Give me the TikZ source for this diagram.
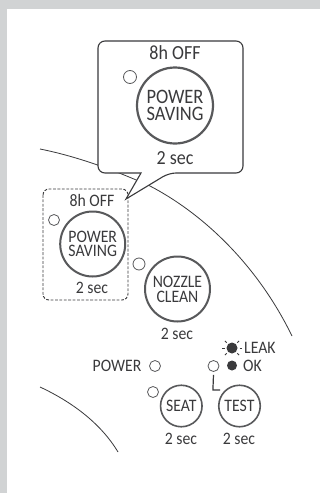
\documentclass[tikz,border=0pt]{standalone}
\usepackage{fontspec}
\setmainfont[FakeStretch=0.9]{Carlito}
\definecolor{ink}{HTML}{3A3A3C}
\definecolor{btn}{HTML}{58595B}
\definecolor{bg}{HTML}{D1D3D4}
\tikzset{
 lbl/.style={text=ink,inner sep=0pt,align=center,font=\fontsize{#1}{#1}\selectfont},
 lbl/.default=15,
 two/.style={text=ink,inner sep=0pt,align=center,font=\fontsize{#1}{#1}\selectfont},
 led/.style={circle,draw=btn,line width=0.8pt,fill=white,inner sep=0pt,minimum size=#1},
 btnc/.style={circle,draw=btn,line width=#1,fill=white,inner sep=0pt},
 arc/.style={draw=ink,line width=0.8pt},
}
\begin{document}
\begin{tikzpicture}[x=1pt,y=-1pt]
\useasboundingbox (0,0) rectangle (320,493);
\fill[bg] (0,0) rectangle (320,493);
\fill[white] (7,9) rectangle (320,493);
% housing curves
\draw[arc] (40,149) .. controls (75,156) and (112,169) .. (150,186) .. controls (200,212) and (256,262) .. (292,336);
\draw[arc] (40,387) .. controls (70,401) and (100,422) .. (118,452);
% dashed selection
\draw[ink,line width=0.9pt,dash pattern=on 2.8pt off 1.6pt,rounded corners=6pt] (43,189) rectangle (128,300);
% callout
\draw[fill=white,draw=ink,line width=1.1pt,rounded corners=7pt]
  (98,41) -- (243,41) -- (243,173) -- (169,173) [sharp corners] -- (126,199) -- (141,173) [rounded corners=7pt] -- (98,173) -- cycle;
% callout content
\node[lbl=20] (ctop) at (175,53) {8h OFF};
\node[btnc=2.2pt,minimum size=76pt,two=20.5,align=center] (cbtn) at (175,105.5) {\baselineskip=17pt POWER\\[-3.5pt]SAVING};
\node[lbl=20] (csec) at (175,158) {2 sec};
\node[led=13pt] (cled) at (130,77) {};
% power saving
\node[lbl=17.5] (ptop) at (92,200) {8h OFF};
\node[btnc=2pt,minimum size=65pt,two=17.5] (pbtn) at (92.7,244) {POWER\\[-3pt]SAVING};
\node[lbl=17.5] (psec) at (92,288) {2 sec};
\node[led=11pt] (pled) at (54,220) {};
% nozzle
\node[btnc=2pt,minimum size=65pt,two=17.5] (nbtn) at (177.5,289) {NOZZLE\\[-2.5pt]CLEAN};
\node[lbl=17.5] (nsec) at (177,334) {2 sec};
\node[led=12pt] (nled) at (139,264) {};
% indicators
\node[lbl=17.5,anchor=east] (pwr) at (141.5,366) {POWER};
\node[led=11pt] (pwrled) at (155,366) {};
\node[led=11pt] (tled) at (213.5,366) {};
\node[circle,fill=ink,inner sep=0pt,minimum size=10pt] (okd) at (232,365.5) {};
\node[lbl=17.5,anchor=west] (oktxt) at (243,366) {OK};
\node[circle,fill=ink,inner sep=0pt,minimum size=11pt] (leakd) at (232,348) {};
\foreach \a in {0,45,135,180,225,315}
  \draw[ink,line width=1pt] ([shift={(\a:7.5)}]leakd.center) -- ([shift={(\a:10)}]leakd.center);
\node[lbl=17.5,anchor=west] (leaktxt) at (244,347.5) {LEAK};
% seat and test
\node[btnc=1.6pt,minimum size=41.5pt,two=17.5] (sbtn) at (181.3,406) {SEAT};
\node[lbl=17.5] (ssec) at (181,439) {2 sec};
\node[led=11pt] (sled) at (153,392) {};
\node[btnc=1.6pt,minimum size=41.5pt,two=17.5] (tbtn) at (239.5,406) {TEST};
\node[lbl=17.5] (tsec) at (239,439) {2 sec};
\coordinate (ltip) at (220,390);
\draw[ink,line width=1.2pt] (tled.south) ++(0,3) -- (212.9,390) -- (ltip);
\end{tikzpicture}
\end{document}
